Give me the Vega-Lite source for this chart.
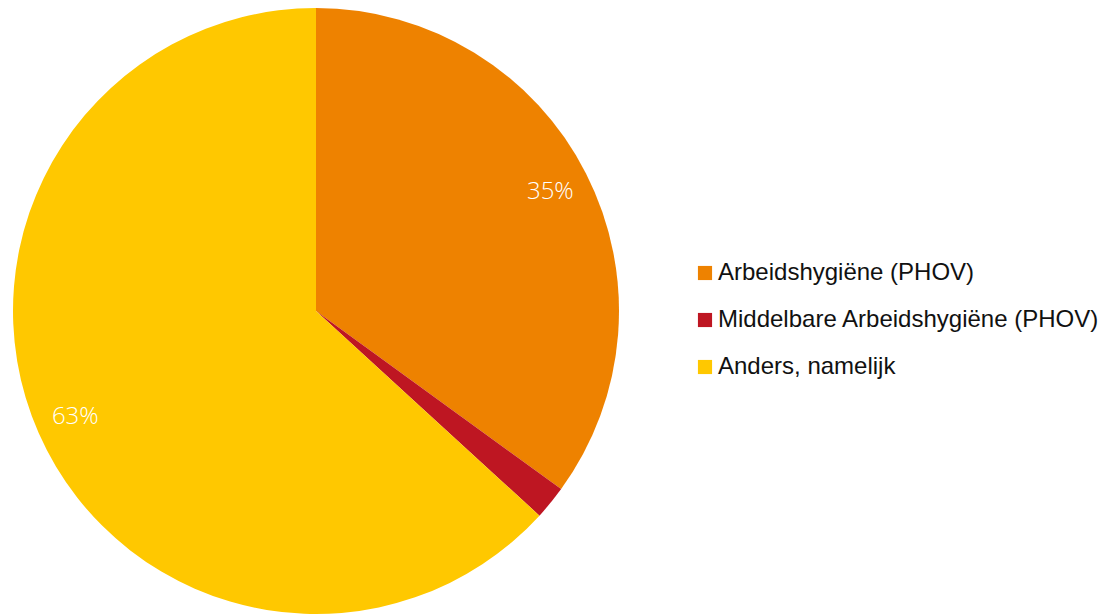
{
  "$schema": "https://vega.github.io/schema/vega-lite/v6.json",
  "width": 632,
  "height": 622,
  "autosize": {"type": "none"},
  "padding": {"left": 0, "top": 0, "right": 481, "bottom": 0},
  "background": "white",
  "data": {
    "values": [
      {"categorie": "Arbeidshygiëne (PHOV)", "percentage": 35.0, "volgorde": 1, "label": "35%"},
      {"categorie": "Middelbare Arbeidshygiëne (PHOV)", "percentage": 1.8, "volgorde": 2, "label": ""},
      {"categorie": "Anders, namelijk", "percentage": 63.2, "volgorde": 3, "label": "63%"}
    ]
  },
  "encoding": {
    "theta": {"field": "percentage", "type": "quantitative", "stack": true},
    "order": {"field": "volgorde", "type": "quantitative"},
    "color": {
      "field": "categorie",
      "type": "nominal",
      "sort": null,
      "scale": {
        "domain": ["Arbeidshygiëne (PHOV)", "Middelbare Arbeidshygiëne (PHOV)", "Anders, namelijk"],
        "range": ["#ee8200", "#be1622", "#ffc800"]
      },
      "legend": {
        "title": null,
        "orient": "none",
        "legendX": 693,
        "legendY": 261,
        "symbolType": "square",
        "symbolSize": 200,
        "symbolStrokeWidth": 0,
        "labelFont": "Liberation Sans",
        "labelFontSize": 24,
        "labelColor": "#111111",
        "labelOffset": 1,
        "rowPadding": 23,
        "labelLimit": 600
      }
    }
  },
  "layer": [
    {"mark": {"type": "arc", "outerRadius": 303}},
    {
      "mark": {"type": "text", "radius": 263, "font": "Open Sans", "fontWeight": 300, "fontSize": 24, "fill": "white"},
      "encoding": {"text": {"field": "label"}, "color": {"value": "white"}}
    }
  ],
  "view": {"stroke": null}
}
